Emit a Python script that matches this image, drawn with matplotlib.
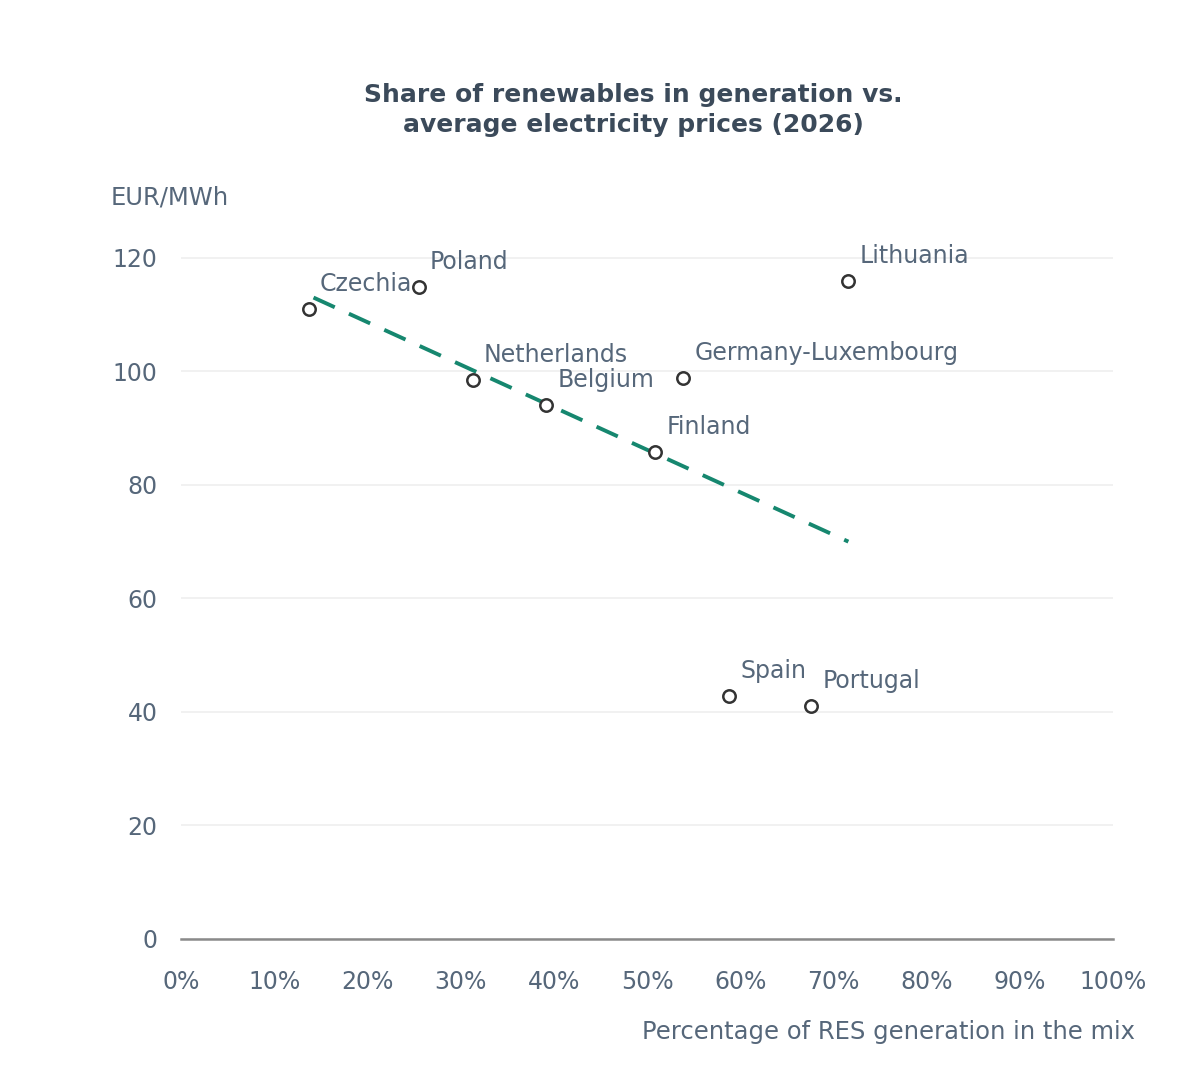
import matplotlib.pyplot as plt
from matplotlib.ticker import FuncFormatter

# data
countries = ['Czechia', 'Poland', 'Lithuania', 'Netherlands', 'Belgium',
             'Germany-Luxembourg', 'Finland', 'Spain', 'Portugal']
res_share = [13.7, 25.5, 71.6, 31.3, 39.2, 53.9, 50.9, 58.8, 67.6]
price = [111.0, 114.9, 116.0, 98.5, 94.1, 98.9, 85.8, 42.8, 41.1]

trend_x = [14.2, 71.6]
trend_y = [113.0, 70.0]

yticks = [0, 20, 40, 60, 80, 100, 120]
xticks = list(range(0, 101, 10))

txt = '#56677a'
dark = '#3b4a5a'

fig = plt.figure(figsize=(12, 10.67), dpi=100)
ax = fig.add_axes([0.151, 0.12, 0.7765, 0.649])

ax.plot(trend_x, trend_y, color='#16876f', lw=2.8, ls=(0, (6, 4)), zorder=2)
ax.scatter(res_share, price, s=80, facecolor='white', edgecolor='#333333',
           linewidth=1.8, zorder=3)

for name, x, y in zip(countries, res_share, price):
    ax.annotate(name, (x, y), xytext=(8, 18), textcoords='offset points',
                ha='left', va='center', fontsize=17, color=txt)

ax.set_xlim(0, 100)
ax.set_ylim(0, 122)
ax.set_yticks(yticks)
ax.set_xticks(xticks)
ax.xaxis.set_major_formatter(FuncFormatter(lambda v, p: '%d%%' % v))
ax.tick_params(axis='both', length=0, labelsize=17, labelcolor=txt)
ax.tick_params(axis='x', pad=22)
ax.tick_params(axis='y', pad=17)

ax.grid(axis='y', color='#efefef', lw=1.2)
ax.set_axisbelow(True)
for s in ['top', 'right', 'left']:
    ax.spines[s].set_visible(False)
ax.spines['bottom'].set_color('#8a8a8a')
ax.spines['bottom'].set_linewidth(1.8)

fig.text(0.528, 0.897, 'Share of renewables in generation vs.\naverage electricity prices (2026)',
         ha='center', va='center', fontsize=18, fontweight='bold', color=dark,
         linespacing=1.35)
fig.text(0.092, 0.815, 'EUR/MWh', ha='left', va='center', fontsize=17.5, color=txt)
fig.text(0.946, 0.033, 'Percentage of RES generation in the mix', ha='right',
         va='center', fontsize=17.5, color=txt)

fig.savefig('out.png', dpi=100, facecolor='white')
